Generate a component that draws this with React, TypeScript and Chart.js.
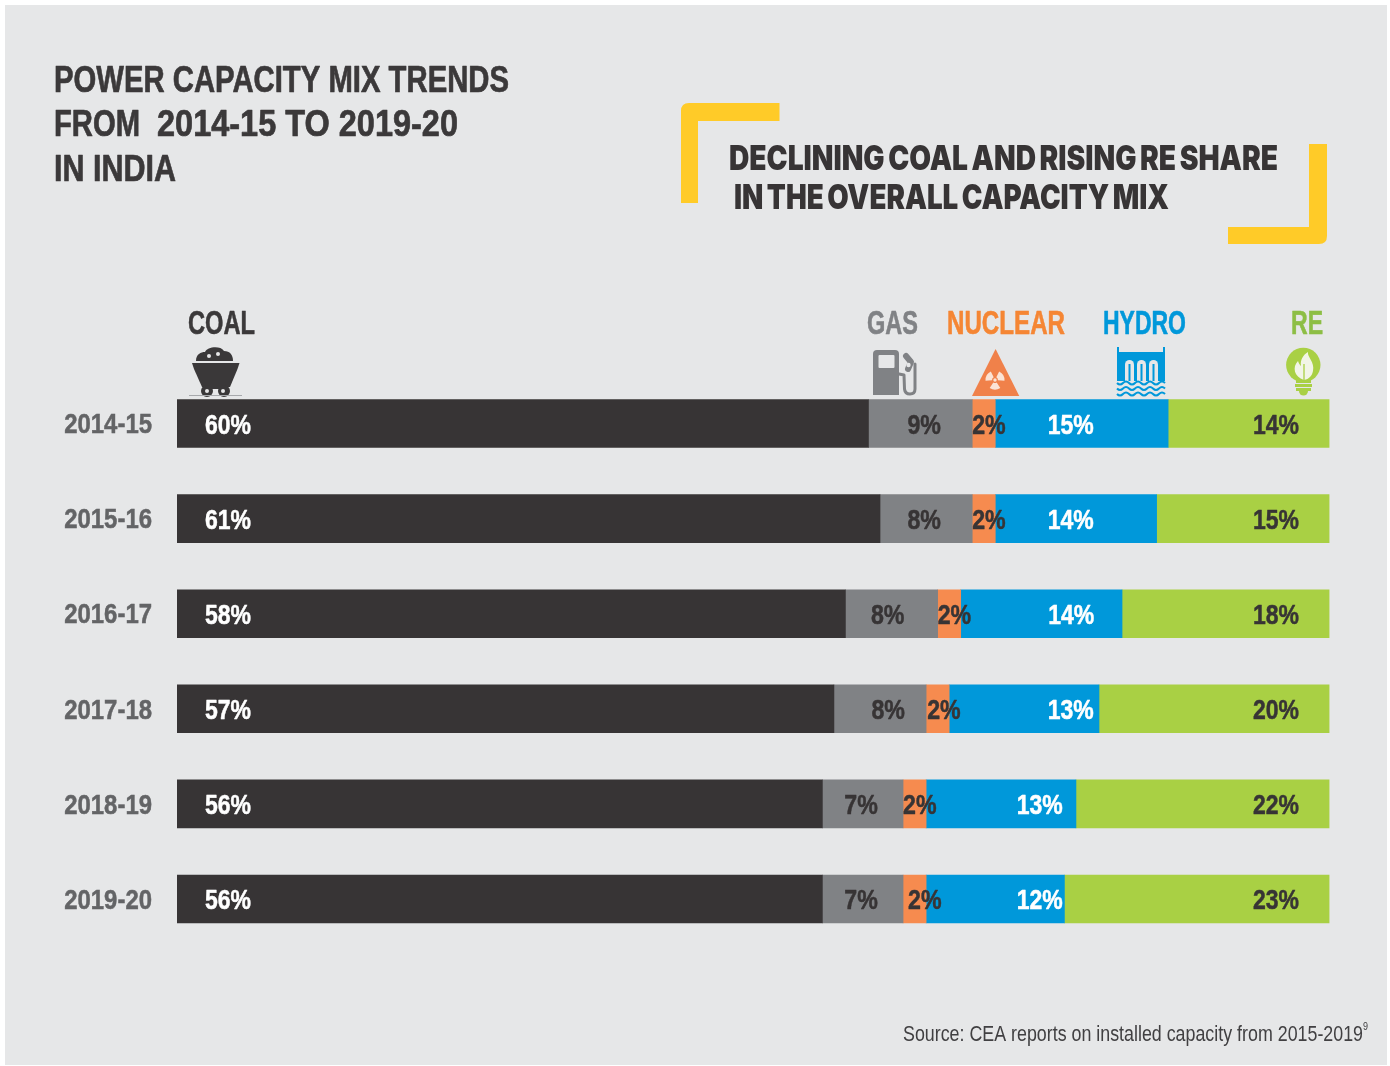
import React, { useEffect, useRef } from "react";
import { Chart, registerables } from "chart.js";

Chart.register(...registerables);

const years = ["2014-15", "2015-16", "2016-17", "2017-18", "2018-19", "2019-20"];
const coal = [60, 61, 58, 57, 56, 56];
const gas = [9, 8, 8, 8, 7, 7];
const nuclear = [2, 2, 2, 2, 2, 2];
const hydro = [15, 14, 14, 13, 13, 12];
const re = [14, 15, 18, 20, 22, 23];

const COAL_COLOR = "#373435";
const GAS_COLOR = "#808285";
const NUCLEAR_COLOR = "#F68B4F";
const HYDRO_COLOR = "#0098DA";
const RE_COLOR = "#A9D044";
const YELLOW = "#FFCB28";
const PANEL = "#E6E7E8";

const SANS = '"Liberation Sans", Arial, sans-serif';

// Value label anchors, in pixels from an edge of the segment.
const gasCentreFromEnd = [-48, -48, -50, -38, -42, -42];
const nuclearLeftFromStart = [0, 0, 0, 1, 0, 5];
const hydroCentreFromStart = [75.5, 75.5, 110.5, 121.5, 113.5, 113.5];

type Ctx = CanvasRenderingContext2D;

// Draws a line of text squeezed to an exact width; a thin outline restores
// the weight that the horizontal squeeze takes from the stems.
function fitText(
  ctx: Ctx,
  text: string,
  x: number,
  y: number,
  width: number,
  font: string,
  color: string,
  weight = 0,
  wordGap = 0,
) {
  ctx.save();
  ctx.font = font;
  ctx.fillStyle = color;
  ctx.strokeStyle = color;
  ctx.lineJoin = "round";
  ctx.textAlign = "left";
  ctx.textBaseline = "alphabetic";
  (ctx as any).wordSpacing = `${wordGap}px`;
  const natural = ctx.measureText(text).width;
  ctx.translate(x, y);
  ctx.scale(width / natural, 1);
  ctx.fillText(text, 0, 0);
  if (weight > 0) {
    ctx.lineWidth = weight;
    ctx.strokeText(text, 0, 0);
  }
  ctx.restore();
}

function coalIcon(ctx: Ctx) {
  ctx.save();
  ctx.fillStyle = "#3A3839";
  ctx.beginPath();
  ctx.moveTo(196, 361);
  ctx.bezierCurveTo(196, 354, 201, 352, 205, 352);
  ctx.bezierCurveTo(207, 347, 220, 345, 224, 351);
  ctx.bezierCurveTo(230, 351, 233, 355, 233, 361);
  ctx.closePath();
  ctx.fill();
  ctx.beginPath();
  ctx.moveTo(192, 363);
  ctx.lineTo(239.5, 363);
  ctx.lineTo(237.5, 369);
  ctx.lineTo(230, 387);
  ctx.lineTo(202, 387);
  ctx.lineTo(194, 369);
  ctx.closePath();
  ctx.fill();
  ctx.beginPath();
  ctx.arc(207, 391, 6, 0, Math.PI * 2);
  ctx.arc(224, 391, 6, 0, Math.PI * 2);
  ctx.fill();
  ctx.fillRect(207, 386, 17, 3);
  ctx.fillStyle = PANEL;
  for (const [cx, cy, r] of [[209, 356, 2], [218, 354, 2], [207, 391, 2], [223, 391, 2]]) {
    ctx.beginPath();
    ctx.arc(cx, cy, r, 0, Math.PI * 2);
    ctx.fill();
  }
  ctx.strokeStyle = "#A7A9AC";
  ctx.lineWidth = 1;
  ctx.beginPath();
  ctx.moveTo(189, 395.5);
  ctx.lineTo(242, 395.5);
  ctx.stroke();
  ctx.restore();
}

function gasIcon(ctx: Ctx) {
  ctx.save();
  ctx.fillStyle = GAS_COLOR;
  ctx.beginPath();
  ctx.roundRect(873, 350, 26, 45, [4, 4, 0, 0]);
  ctx.fill();
  ctx.fillStyle = PANEL;
  ctx.beginPath();
  ctx.roundRect(878.5, 355, 16, 13, 1);
  ctx.fill();
  ctx.strokeStyle = GAS_COLOR;
  ctx.lineCap = "round";
  ctx.lineJoin = "round";
  ctx.lineWidth = 3;
  ctx.beginPath();
  ctx.moveTo(899, 374);
  ctx.lineTo(904, 375);
  ctx.lineTo(904.5, 389);
  ctx.quadraticCurveTo(905, 394, 910, 394);
  ctx.quadraticCurveTo(915, 394, 915, 389);
  ctx.lineTo(915, 364);
  ctx.stroke();
  ctx.lineWidth = 6;
  ctx.beginPath();
  ctx.moveTo(906, 356);
  ctx.lineTo(911, 362);
  ctx.lineTo(908, 369);
  ctx.stroke();
  ctx.fillStyle = PANEL;
  ctx.beginPath();
  ctx.arc(908.5, 365, 2.2, 0, Math.PI * 2);
  ctx.fill();
  ctx.restore();
}

function nuclearIcon(ctx: Ctx) {
  ctx.save();
  ctx.fillStyle = "#F0814A";
  ctx.beginPath();
  ctx.moveTo(995.6, 349);
  ctx.lineTo(1019.3, 396);
  ctx.lineTo(972, 396);
  ctx.closePath();
  ctx.fill();
  ctx.fillStyle = "#FBE3D5";
  const cx = 995;
  const cy = 380;
  for (const a of [-150, -30, 90]) {
    const mid = (a * Math.PI) / 180;
    const half = (34 * Math.PI) / 180;
    ctx.beginPath();
    ctx.arc(cx, cy, 9.5, mid - half, mid + half);
    ctx.arc(cx, cy, 3, mid + half, mid - half, true);
    ctx.closePath();
    ctx.fill();
  }
  ctx.beginPath();
  ctx.arc(cx, cy, 1.7, 0, Math.PI * 2);
  ctx.fill();
  ctx.restore();
}

function hydroIcon(ctx: Ctx) {
  ctx.save();
  ctx.fillStyle = HYDRO_COLOR;
  ctx.fillRect(1117, 347, 2, 8);
  ctx.fillRect(1163, 347, 2, 8);
  ctx.fillRect(1117, 352, 48, 29);
  ctx.fillStyle = PANEL;
  for (const x of [1125, 1137, 1149]) {
    ctx.beginPath();
    ctx.roundRect(x, 360, 9, 21, [4.5, 4.5, 0, 0]);
    ctx.fill();
  }
  ctx.fillStyle = HYDRO_COLOR;
  for (const x of [1128.5, 1140.5, 1152.5]) ctx.fillRect(x, 364, 2, 17);
  ctx.strokeStyle = HYDRO_COLOR;
  ctx.lineWidth = 2;
  for (const y of [383, 388.5, 394]) {
    ctx.beginPath();
    ctx.moveTo(1117, y);
    for (let i = 0; i < 4; i++) {
      const x = 1117 + i * 12;
      ctx.quadraticCurveTo(x + 3, y + 3, x + 6, y);
      ctx.quadraticCurveTo(x + 9, y - 3, x + 12, y);
    }
    ctx.stroke();
  }
  ctx.restore();
}

function reIcon(ctx: Ctx) {
  ctx.save();
  ctx.fillStyle = RE_COLOR;
  ctx.beginPath();
  ctx.arc(1303.3, 365, 17.2, 0, Math.PI * 2);
  ctx.fill();
  ctx.fillRect(1296, 379, 15, 4);
  ctx.fillRect(1295, 384, 17, 3);
  ctx.fillRect(1296, 388, 15, 3);
  ctx.beginPath();
  ctx.arc(1303.5, 391, 4.5, 0, Math.PI);
  ctx.fill();
  ctx.fillStyle = "#F2F5E6";
  ctx.beginPath();
  ctx.moveTo(1304, 380);
  ctx.bezierCurveTo(1294, 377, 1292, 367, 1298, 361);
  ctx.bezierCurveTo(1299, 364, 1300, 365, 1301, 366);
  ctx.bezierCurveTo(1300, 360, 1303, 355, 1308, 352);
  ctx.bezierCurveTo(1307, 357, 1315, 362, 1313, 371);
  ctx.bezierCurveTo(1312, 376, 1309, 379, 1304, 380);
  ctx.closePath();
  ctx.fill();
  ctx.strokeStyle = RE_COLOR;
  ctx.lineWidth = 1.3;
  ctx.beginPath();
  ctx.moveTo(1304, 380);
  ctx.lineTo(1304, 364);
  ctx.stroke();
  ctx.restore();
}

function bracket(ctx: Ctx) {
  ctx.save();
  ctx.fillStyle = YELLOW;
  ctx.beginPath();
  ctx.moveTo(681, 203);
  ctx.lineTo(681, 111);
  ctx.quadraticCurveTo(681, 103, 689, 103);
  ctx.lineTo(779.5, 103);
  ctx.lineTo(779.5, 121);
  ctx.lineTo(698, 121);
  ctx.lineTo(698, 203);
  ctx.closePath();
  ctx.fill();
  ctx.beginPath();
  ctx.moveTo(1327, 144);
  ctx.lineTo(1327, 236);
  ctx.quadraticCurveTo(1327, 244, 1319, 244);
  ctx.lineTo(1228, 244);
  ctx.lineTo(1228, 227);
  ctx.lineTo(1309, 227);
  ctx.lineTo(1309, 144);
  ctx.closePath();
  ctx.fill();
  ctx.restore();
}

const backdrop = {
  id: "backdrop",
  beforeDraw(chart: Chart) {
    const ctx = chart.ctx;
    ctx.save();
    ctx.fillStyle = "#FFFFFF";
    ctx.fillRect(0, 0, chart.width, chart.height);
    ctx.fillStyle = PANEL;
    ctx.fillRect(5, 5, 1382, 1060);
    ctx.restore();

    // The year labels stay on the axis, condensed about their right edge.
    const axis = chart.scales.y as any;
    if (!axis.condensedLabels) {
      axis.condensedLabels = true;
      const drawLabels = axis.drawLabels.bind(axis);
      axis.drawLabels = (area: any) => {
        ctx.save();
        ctx.translate(152, 2);
        ctx.scale(88 / 103, 1);
        ctx.translate(-152, 0);
        drawLabels(area);
        ctx.restore();
      };
    }
  },
};

const annotations = {
  id: "annotations",
  afterDraw(chart: Chart) {
    const ctx = chart.ctx;
    const titleFont = `bold 37px ${SANS}`;
    fitText(ctx, "POWER CAPACITY MIX TRENDS", 54, 91.5, 455, titleFont, "#3B393A", 0.7);
    fitText(ctx, "FROM", 54, 136, 86, titleFont, "#3B393A", 0.7);
    fitText(ctx, "2014-15 TO 2019-20", 157, 136, 301, titleFont, "#3B393A", 0.7);
    fitText(ctx, "IN INDIA", 54, 180.5, 122, titleFont, "#3B393A", 0.7);

    bracket(ctx);
    const callout = "900 34px Inter, Lato, sans-serif";
    fitText(ctx, "DECLINING COAL AND RISING RE SHARE", 729, 170, 549, callout, "#373435", 0, -2.5);
    fitText(ctx, "IN THE OVERALL CAPACITY MIX", 734, 209, 435, callout, "#373435", 0, -2.5);

    const headFont = `bold 33px ${SANS}`;
    fitText(ctx, "COAL", 188, 334, 67, headFont, "#3B393A", 0.6);
    fitText(ctx, "GAS", 867, 334, 51, headFont, GAS_COLOR, 0.6);
    fitText(ctx, "NUCLEAR", 947, 334, 118, headFont, "#F58634", 0.6);
    fitText(ctx, "HYDRO", 1103, 334, 83, headFont, HYDRO_COLOR, 0.6);
    fitText(ctx, "RE", 1291, 334, 32, headFont, "#8DBE45", 0.6);

    coalIcon(ctx);
    gasIcon(ctx);
    nuclearIcon(ctx);
    hydroIcon(ctx);
    reIcon(ctx);

    fitText(ctx, "Source: CEA reports on installed capacity from 2015-2019", 903, 1041, 460, `21.5px ${SANS}`, "#414042");
    fitText(ctx, "9", 1363, 1030, 5, `10px ${SANS}`, "#414042");
  },
};

const valueLabels = {
  id: "valueLabels",
  afterDatasetsDraw(chart: Chart) {
    const ctx = chart.ctx;
    const font = `bold 28px ${SANS}`;
    const labelWidth = (text: string) => (text.length === 3 ? 46 : 33.5);
    const bars = chart.data.datasets.map((_, i) => chart.getDatasetMeta(i).data as any[]);
    years.forEach((_, row) => {
      const put = (value: number, left: number, seg: number, color: string) => {
        const text = `${value}%`;
        fitText(ctx, text, left, bars[seg][row].y + 10, labelWidth(text), font, color, 0.5);
      };
      const barEnd = (seg: number) => bars[seg][row].x;
      const barStart = (seg: number) => bars[seg][row].base;
      put(coal[row], barStart(0) + 28, 0, "#FFFFFF");
      put(gas[row], barEnd(1) + gasCentreFromEnd[row] - 16.75, 1, "#373435");
      put(nuclear[row], barStart(2) + nuclearLeftFromStart[row], 2, "#373435");
      put(hydro[row], barStart(3) + hydroCentreFromStart[row] - 23, 3, "#FFFFFF");
      put(re[row], barEnd(4) - 76.5, 4, "#373435");
    });
  },
};

export default function App() {
  const ref = useRef<HTMLCanvasElement>(null);

  useEffect(() => {
    const segment = (label: string, data: number[], backgroundColor: string) => ({
      label,
      data,
      backgroundColor,
      borderWidth: 0,
      barThickness: 48,
      stack: "mix",
    });
    const chart = new Chart(ref.current!, {
      type: "bar",
      data: {
        labels: years,
        datasets: [
          segment("Coal", coal, COAL_COLOR),
          segment("Gas", gas, GAS_COLOR),
          segment("Nuclear", nuclear, NUCLEAR_COLOR),
          segment("Hydro", hydro, HYDRO_COLOR),
          segment("RE", re, RE_COLOR),
        ],
      },
      options: {
        indexAxis: "y",
        animation: false,
        responsive: false,
        layout: { padding: { left: 0, top: 376, right: 60.5, bottom: 119.5 } },
        plugins: { legend: { display: false }, tooltip: { enabled: false }, title: { display: false } },
        scales: {
          x: { stacked: true, display: false, min: 0, max: 100 },
          y: {
            stacked: true,
            grid: { display: false, drawTicks: false },
            border: { display: false },
            afterFit(scale: any) {
              scale.width = 177;
            },
            ticks: {
              padding: 25,
              color: "#636466",
              textStrokeColor: "#636466",
              textStrokeWidth: 0.5,
              font: { family: SANS, weight: "bold", size: 28 },
            },
          },
        },
      },
      plugins: [backdrop, valueLabels, annotations],
    } as any);
    return () => chart.destroy();
  }, []);

  return (
    <div style={{ position: "absolute", left: 0, top: 0, width: 1390, height: 1066 }}>
      <canvas ref={ref} width={1390} height={1066} style={{ display: "block" }} />
    </div>
  );
}
